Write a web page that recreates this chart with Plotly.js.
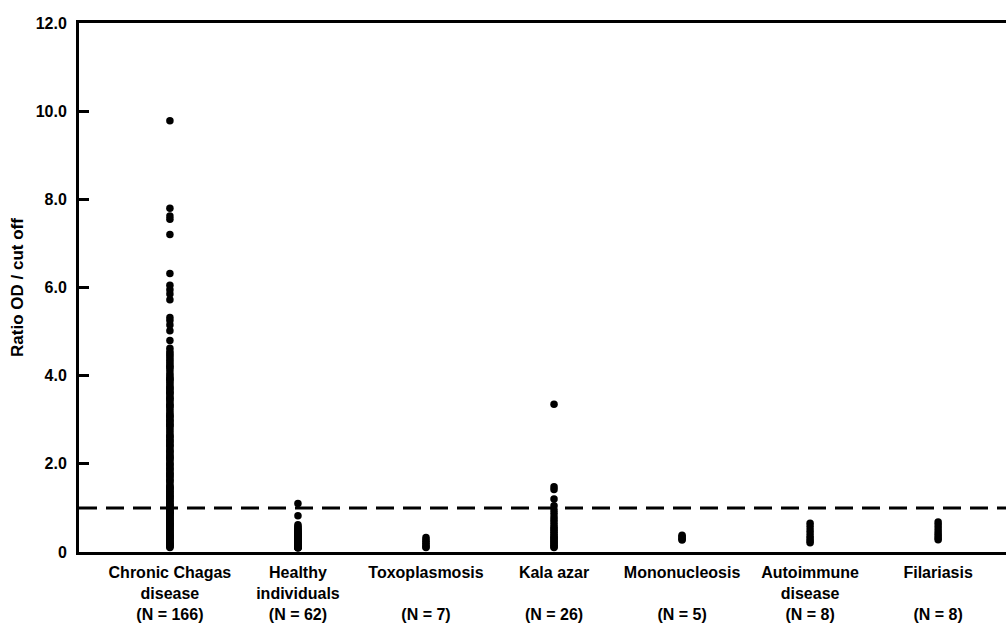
<!DOCTYPE html>
<html>
<head>
<meta charset="utf-8">
<script src="https://cdn.plot.ly/plotly-3.0.1.min.js"></script>
<style>
html,body{margin:0;padding:0;background:#fff;}
#chart{width:1006px;height:624px;}
</style>
</head>
<body>
<div id="chart"></div>
<script>
// ---- data ----
var categories = ["Chronic Chagas disease", "Healthy individuals", "Toxoplasmosis", "Kala azar", "Mononucleosis", "Autoimmune disease", "Filariasis"];
var tickLabels = [
  "Chronic Chagas<br>disease<br>(N = 166)",
  "Healthy<br>individuals<br>(N = 62)",
  "Toxoplasmosis<br> <br>(N = 7)",
  "Kala azar<br> <br>(N = 26)",
  "Mononucleosis<br> <br>(N = 5)",
  "Autoimmune<br>disease<br>(N = 8)",
  "Filariasis<br> <br>(N = 8)"
];
var chagas = [9.78, 7.80, 7.62, 7.55, 7.20, 6.32, 6.05, 5.95, 5.85, 5.72, 5.32, 5.25, 5.15, 5.02, 4.80, 4.62,
  4.55, 4.50, 4.45, 4.40, 4.35, 4.30, 4.25, 4.20, 4.12, 4.05, 4.00, 3.95, 3.90, 3.85, 3.80, 3.75, 3.70, 3.65, 3.60, 3.55,
  3.50, 3.45, 3.40, 3.35, 3.30, 3.25, 3.20, 3.15, 3.10, 3.05, 3.00, 2.95, 2.90, 2.85, 2.80, 2.75, 2.70, 2.65, 2.60, 2.55,
  2.50, 2.45, 2.40, 2.35, 2.30, 2.25, 2.20, 2.15, 2.10, 2.05, 2.00, 1.95, 1.90, 1.85, 1.80, 1.75, 1.70, 1.65, 1.60, 1.55,
  1.50, 1.46, 1.42, 1.38, 1.34, 1.30, 1.26, 1.22, 1.18, 1.14, 1.10, 1.06, 1.02, 0.98, 0.94, 0.90, 0.86, 0.82, 0.78, 0.74,
  0.70, 0.66, 0.62, 0.58, 0.54, 0.50, 0.46, 0.42, 0.38, 0.34, 0.30, 0.26, 0.22, 0.18, 0.14, 0.10,
  3.92, 3.62, 3.32, 3.08, 2.88, 2.62, 2.42, 2.28, 2.12, 1.98,
  1.88, 1.72, 1.62, 1.48, 1.36, 1.24, 1.16, 1.08, 1.04, 0.96,
  0.92, 0.88, 0.84, 0.80, 0.76, 0.72, 0.68, 0.64, 0.60, 0.56,
  0.52, 0.48, 0.44, 0.40, 0.36, 0.32, 0.28, 0.24, 0.20, 0.16,
  0.12, 4.18, 3.72, 3.48, 2.98, 2.52, 2.18, 1.78, 1.44, 1.28,
  0.90, 0.62, 0.35, 0.15];
var healthy = [1.10, 0.82, 0.62, 0.58, 0.55, 0.52, 0.50, 0.48, 0.46, 0.44, 0.42, 0.40, 0.39, 0.38, 0.37, 0.36, 0.35, 0.34, 0.33, 0.32,
  0.31, 0.30, 0.30, 0.29, 0.28, 0.28, 0.27, 0.26, 0.26, 0.25, 0.25, 0.24, 0.24, 0.23, 0.23, 0.22, 0.22, 0.21, 0.21, 0.20,
  0.20, 0.19, 0.19, 0.18, 0.18, 0.17, 0.17, 0.16, 0.16, 0.15, 0.15, 0.14, 0.14, 0.13, 0.13, 0.12, 0.12, 0.11, 0.11, 0.10,
  0.10, 0.09];
var toxoplasmosis = [0.33, 0.28, 0.24, 0.20, 0.16, 0.12, 0.10];
var kalaAzar = [3.35, 1.48, 1.42, 1.20, 1.05, 0.95, 0.88, 0.80, 0.74, 0.68, 0.62, 0.56, 0.52, 0.48, 0.44, 0.40, 0.36, 0.33, 0.30, 0.27, 0.24, 0.21, 0.18, 0.15, 0.12, 0.10];
var mononucleosis = [0.38, 0.35, 0.32, 0.29, 0.27];
var autoimmune = [0.65, 0.58, 0.50, 0.43, 0.36, 0.30, 0.25, 0.21];
var filariasis = [0.68, 0.62, 0.55, 0.48, 0.42, 0.37, 0.32, 0.28];
var cutoff = 1.0;
var yTickVals = [0, 2, 4, 6, 8, 10, 12];
var yTickText = ["0", "2.0", "4.0", "6.0", "8.0", "10.0", "12.0"];

var seriesValues = [chagas, healthy, toxoplasmosis, kalaAzar, mononucleosis, autoimmune, filariasis];

// ---- traces ----
var traces = seriesValues.map(function (vals, i) {
  return {
    type: "scatter",
    mode: "markers",
    x: vals.map(function () { return categories[i]; }),
    y: vals,
    marker: { color: "#000", size: 7.5, line: { width: 0 } },
    showlegend: false,
    hoverinfo: "y"
  };
});

var family = "Liberation Sans, Arial, sans-serif";
var xFont = { family: family, size: 16, color: "#000", weight: "bold" };
var yFont = { family: family, size: 16, color: "#000", weight: "bold" };

var layout = {
  width: 1006,
  height: 624,
  margin: { l: 79, r: 0, t: 23, b: 72 },
  paper_bgcolor: "#fff",
  plot_bgcolor: "#fff",
  font: yFont,
  showlegend: false,
  xaxis: {
    type: "category",
    categoryorder: "array",
    categoryarray: categories,
    tickvals: categories,
    ticktext: tickLabels,
    range: [-0.71, 6.53],
    showgrid: false,
    zeroline: false,
    showline: true,
    linecolor: "#000",
    linewidth: 3,
    mirror: true,
    ticks: "",
    ticklabelstandoff: 4,
    tickfont: xFont,
    fixedrange: true
  },
  yaxis: {
    range: [0, 12],
    tickvals: yTickVals,
    ticktext: yTickText,
    showgrid: false,
    zeroline: false,
    showline: true,
    linecolor: "#000",
    linewidth: 3,
    ticks: "inside",
    ticklen: 10,
    tickwidth: 3,
    tickcolor: "#000",
    ticklabelstandoff: 6,
    tickfont: yFont,
    title: { text: "Ratio OD / cut off", font: { family: family, size: 17, color: "#000", weight: "bold" }, standoff: 8 },
    fixedrange: true
  },
  shapes: [{
    type: "line",
    xref: "paper",
    x0: 0,
    x1: 1,
    yref: "y",
    y0: cutoff,
    y1: cutoff,
    line: { color: "#000", width: 3, dash: "18px,9px" },
    layer: "below"
  }]
};

Plotly.newPlot("chart", traces, layout, { displayModeBar: false, staticPlot: true });
</script>
</body>
</html>
